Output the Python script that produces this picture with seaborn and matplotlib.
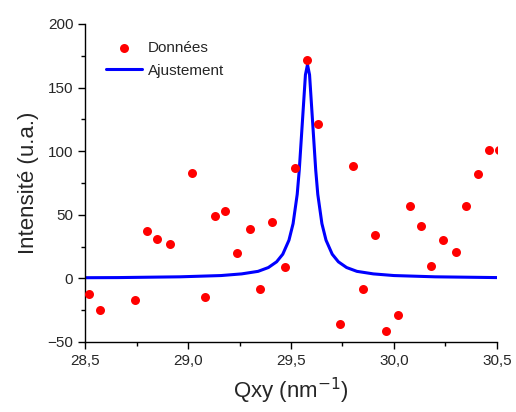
import numpy as np
import pandas as pd
import matplotlib
matplotlib.use("Agg")
import matplotlib.pyplot as plt
from matplotlib.ticker import MultipleLocator, FuncFormatter
import seaborn as sns

# measured points (Qxy in nm^-1, intensity in a.u.)
q_data = [28.52, 28.57, 28.74, 28.80, 28.85, 28.91, 29.02, 29.08, 29.13, 29.18,
          29.24, 29.30, 29.35, 29.41, 29.47, 29.52, 29.58, 29.63, 29.74, 29.80,
          29.85, 29.91, 29.96, 30.02, 30.08, 30.13, 30.18, 30.24, 30.30, 30.35,
          30.41, 30.46, 30.51]
i_data = [-12, -25, -17, 37, 31, 27, 83, -15, 49, 53,
          20, 39, -8, 44, 9, 87, 172, 121, -36, 88,
          -8, 34, -41, -29, 57, 41, 10, 30, 21, 57,
          82, 101, 101]

# fitted curve, sampled along the drawn line
q_fit = [28.50, 28.66, 28.96, 29.16, 29.26, 29.34, 29.39, 29.43, 29.46, 29.49,
         29.51, 29.53, 29.54, 29.55, 29.56, 29.57, 29.58, 29.59, 29.60, 29.61,
         29.62, 29.63, 29.65, 29.67, 29.70, 29.73, 29.77, 29.82, 29.90, 30.00,
         30.20, 30.50]
i_fit = [0.5, 0.6, 1.2, 2.2, 3.5, 5.5, 8.5, 13, 19, 30,
         43, 66, 85, 110, 135, 160, 168, 160, 135, 110,
         85, 66, 43, 30, 19, 13, 8.5, 5.5, 3.5, 2.2,
         1.2, 0.6]

sns.set_style("ticks")
plt.rcParams['font.family'] = ['Liberation Sans', 'DejaVu Sans']

fig = plt.figure(figsize=(5.16, 4.12), dpi=100)
ax = fig.add_axes([0.165, 0.170, 0.798, 0.772])

data = pd.DataFrame({'q': q_data, 'i': i_data})
fit = pd.DataFrame({'q': q_fit, 'i': i_fit})

sns.scatterplot(data=data, x='q', y='i', color='#ff0000', s=42, linewidth=0,
                label='Données', ax=ax, zorder=3)
sns.lineplot(data=fit, x='q', y='i', color='#0000ff', linewidth=2.2,
             label='Ajustement', ax=ax, zorder=2)

ax.set_xlim(28.5, 30.5)
ax.set_ylim(-50, 200)
ax.xaxis.set_major_locator(MultipleLocator(0.5))
ax.xaxis.set_minor_locator(MultipleLocator(0.25))
ax.yaxis.set_major_locator(MultipleLocator(50))
ax.yaxis.set_minor_locator(MultipleLocator(25))
ax.xaxis.set_major_formatter(FuncFormatter(lambda v, p: f"{v:.1f}".replace('.', ',')))
ax.tick_params(which='major', length=5, width=1, labelsize=11, color='black')
ax.tick_params(which='minor', length=3, width=1, color='black')

sns.despine(ax=ax)
for sp in ['left', 'bottom']:
    ax.spines[sp].set_color('black')
    ax.spines[sp].set_linewidth(1)

ax.set_xlabel('Qxy (nm$^{-1}$)', fontsize=16, labelpad=6)
ax.set_ylabel('Intensité (u.a.)', fontsize=16, labelpad=6)

ax.legend(loc='upper left', bbox_to_anchor=(0.035, 0.965), frameon=False,
          fontsize=11, handlelength=2.4, handletextpad=0.35, borderaxespad=0,
          labelspacing=0.55)

fig.savefig('out.png', dpi=100)
